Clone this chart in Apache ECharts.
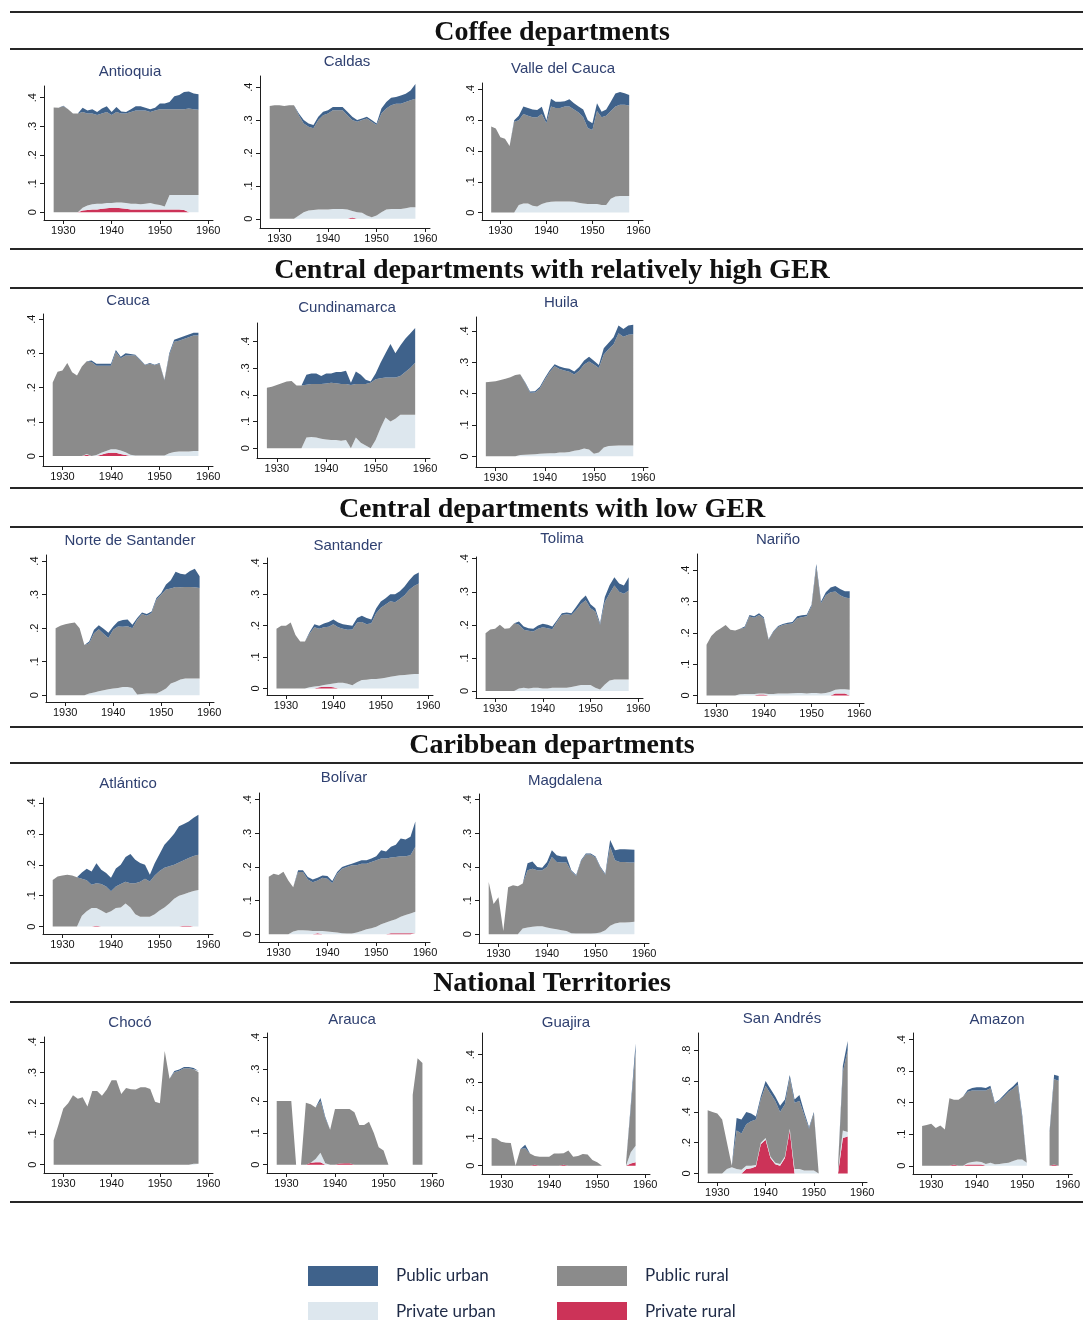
<!DOCTYPE html>
<html>
<head>
<meta charset="utf-8">
<script src="https://cdn.jsdelivr.net/npm/echarts@6/dist/echarts.min.js"></script>
<style>
  html, body { margin: 0; padding: 0; background: #ffffff; }
  #chart { width: 1083px; height: 1320px; }
</style>
</head>
<body>
<div id="chart"></div>
<script>
// Gross enrolment shares by school type, departments of Colombia, 1928-1958
const years = [1928,1929,1930,1931,1932,1933,1934,1935,1936,1937,1938,1939,1940,1941,1942,1943,
               1944,1945,1946,1947,1948,1949,1950,1951,1952,1953,1954,1955,1956,1957,1958];
// Year categories along each horizontal axis (padded beyond the observed years)
const axisYears = [1926,1927,1928,1929,1930,1931,1932,1933,1934,1935,1936,1937,1938,1939,1940,1941,1942,1943,
                   1944,1945,1946,1947,1948,1949,1950,1951,1952,1953,1954,1955,1956,1957,1958,1959,1960,1961];
const xTickYears = [1930, 1940, 1950, 1960];
const yTicks = [0, 0.1, 0.2, 0.3, 0.4];
const yTicksWide = [0, 0.2, 0.4, 0.6, 0.8];

// Stacking order, bottom to top
const layerKeys  = ['privateRural', 'privateUrban', 'publicRural', 'publicUrban'];
const layerNames = ['Private rural', 'Private urban', 'Public rural', 'Public urban'];
const layerColors = ['#cc3358', '#dde7ee', '#8b8b8b', '#3f628b'];

const antioquia = {
  privateRural: [0,0,0,0,0,0,.006,.008,.01,.01,.012,.014,.016,.016,.014,.012,.01,.01,.01,.01,.01,.01,.01,.01,.01,.01,.01,.008,0,0,0],
  privateUrban: [0,0,0,0,0,0,.01,.016,.018,.02,.018,.018,.016,.018,.02,.02,.02,.02,.018,.02,.022,.018,.015,.01,.05,.05,.05,.052,.06,.06,.06],
  publicRural:  [.366,.365,.37,.36,.345,.345,.334,.321,.317,.31,.315,.318,.308,.316,.311,.313,.32,.325,.327,.325,.318,.327,.335,.34,.30,.30,.30,.30,.302,.30,.298],
  publicUrban:  [0,0,.002,0,0,0,.015,.01,.015,.01,.017,.02,.01,.018,.007,.005,.01,.015,.015,.01,.01,.01,.02,.02,.025,.045,.05,.06,.06,.055,.054]
};
const caldas = {
  privateRural: [0,0,0,0,0,0,0,0,0,0,0,0,0,0,0,0,0,.004,0,0,0,0,0,0,0,0,0,0,0,0,0],
  privateUrban: [0,0,0,0,0,0,.01,.02,.025,.027,.028,.028,.028,.03,.03,.03,.028,.02,.02,.018,.01,.005,.01,.02,.028,.03,.03,.03,.032,.035,.035],
  publicRural:  [.343,.345,.345,.343,.345,.345,.305,.27,.255,.248,.272,.287,.292,.30,.30,.30,.287,.276,.275,.282,.295,.29,.275,.30,.307,.315,.32,.32,.323,.325,.33],
  publicUrban:  [0,0,0,0,0,0,.005,.01,.01,.01,.01,.01,.01,.01,.01,.01,.01,.01,.005,.005,.005,.005,.005,.015,.02,.023,.02,.025,.025,.03,.045]
};
const valleDelCauca = {
  privateRural: [0,0,0,0,0,0,0,0,0,0,0,0,0,0,0,0,0,0,0,0,0,0,0,0,0,0,0,0,0,0,0],
  privateUrban: [0,0,0,0,0,0,.025,.03,.03,.022,.02,.028,.033,.035,.036,.036,.036,.036,.035,.032,.03,.028,.028,.028,.025,.025,.045,.052,.054,.054,.054],
  publicRural:  [.28,.273,.245,.24,.216,.295,.275,.29,.285,.288,.29,.292,.257,.31,.304,.304,.309,.309,.30,.293,.28,.247,.24,.302,.285,.29,.285,.293,.296,.296,.294],
  publicUrban:  [0,0,0,0,0,.005,.015,.025,.025,.025,.023,.024,.01,.025,.02,.02,.017,.023,.02,.02,.025,.025,.022,.025,.018,.02,.03,.042,.042,.038,.034]
};
const cauca = {
  privateRural: [0,0,0,0,0,0,0,.004,0,0,.004,.008,.01,.01,.006,.003,0,0,0,0,0,0,0,0,0,0,0,0,0,0,0],
  privateUrban: [0,0,0,0,0,0,0,.002,0,.003,.006,.007,.01,.01,.01,.008,.004,.002,.002,.002,.002,.002,.002,.002,.008,.012,.013,.013,.013,.015,.015],
  publicRural:  [.215,.246,.25,.272,.245,.235,.262,.271,.275,.261,.254,.249,.244,.284,.27,.283,.29,.292,.278,.263,.268,.263,.268,.219,.287,.322,.324,.329,.334,.337,.337],
  publicUrban:  [0,0,0,0,0,0,0,0,.004,.006,.006,.006,.006,.006,.004,.006,.004,.002,.002,.002,.002,.002,.002,.002,.005,.006,.008,.008,.008,.008,.008]
};
const cundinamarca = {
  privateRural: [0,0,0,0,0,0,0,0,0,0,0,0,0,0,0,0,0,0,0,0,0,0,0,0,0,0,0,0,0,0,0],
  privateUrban: [0,0,0,0,0,0,0,0,.04,.042,.04,.035,.032,.03,.03,.028,.03,0,.04,.02,.01,0,.03,.075,.115,.10,.11,.125,.125,.125,.125],
  publicRural:  [.226,.23,.237,.243,.25,.252,.235,.235,.198,.198,.20,.205,.21,.215,.213,.212,.21,.237,.20,.22,.23,.245,.228,.187,.15,.165,.155,.145,.16,.175,.195],
  publicUrban:  [0,0,0,0,0,0,0,0,.037,.04,.04,.03,.038,.035,.042,.045,.05,.008,.047,.035,.016,.005,.022,.058,.091,.125,.091,.115,.125,.13,.13]
};
const huila = {
  privateRural: [0,0,0,0,0,0,0,0,0,0,0,0,0,0,0,0,0,0,0,0,0,0,0,0,0,0,0,0,0,0,0],
  privateUrban: [0,0,0,0,0,0,0,.004,.005,.006,.007,.008,.009,.01,.01,.012,.012,.014,.018,.02,.025,.022,.008,.012,.028,.033,.034,.035,.035,.035,.035],
  publicRural:  [.237,.238,.24,.244,.248,.253,.26,.258,.229,.197,.197,.209,.236,.259,.278,.267,.262,.256,.243,.253,.268,.281,.285,.27,.297,.31,.324,.358,.347,.353,.355],
  publicUrban:  [0,0,0,0,0,0,0,0,.003,.004,.004,.005,.005,.006,.006,.008,.008,.01,.01,.012,.013,.015,.012,.01,.02,.02,.022,.025,.025,.03,.03]
};
const norteDeSantander = {
  privateRural: [0,0,0,0,0,0,0,0,0,0,0,0,0,0,0,0,0,0,0,0,0,0,0,0,0,0,0,0,0,0,0],
  privateUrban: [0,0,0,0,0,0,0,.005,.008,.012,.015,.018,.02,.022,.025,.025,.022,.002,.004,.005,.005,.005,.012,.02,.035,.04,.047,.05,.05,.05,.05],
  publicRural:  [.20,.207,.212,.215,.217,.20,.15,.15,.177,.185,.168,.153,.175,.183,.179,.181,.178,.223,.238,.232,.24,.28,.288,.295,.283,.283,.275,.273,.273,.272,.27],
  publicUrban:  [0,0,0,0,0,0,0,.005,.01,.012,.015,.015,.01,.015,.02,.02,.01,.005,.005,.005,.005,.005,.005,.015,.025,.045,.04,.037,.047,.055,.035]
};
const santander = {
  privateRural: [0,0,0,0,0,0,0,0,0,.004,.005,.005,.004,0,0,0,0,0,0,0,0,0,0,0,0,0,0,0,0,0,0],
  privateUrban: [0,0,0,0,0,0,0,.004,.006,.004,.006,.008,.012,.018,.018,.015,.01,.02,.027,.028,.03,.03,.032,.034,.037,.04,.042,.043,.044,.046,.046],
  publicRural:  [.19,.20,.20,.21,.17,.15,.15,.171,.189,.182,.184,.184,.189,.177,.172,.172,.178,.19,.185,.177,.178,.21,.225,.234,.241,.235,.243,.254,.271,.281,.289],
  publicUrban:  [0,0,0,0,0,0,0,.005,.01,.01,.012,.015,.015,.015,.015,.015,.012,.015,.02,.02,.012,.015,.02,.02,.022,.025,.025,.028,.03,.035,.035]
};
const tolima = {
  privateRural: [0,0,0,0,0,0,0,0,0,0,0,0,0,0,0,0,0,0,0,0,0,0,0,0,0,0,0,0,0,0,0],
  privateUrban: [0,0,0,0,0,0,0,.008,.01,.008,.01,.01,.008,.008,.01,.01,.01,.01,.012,.015,.018,.018,.018,.01,.005,.02,.032,.035,.035,.035,.035],
  publicRural:  [.175,.186,.188,.20,.188,.19,.205,.192,.175,.174,.17,.178,.185,.182,.177,.20,.22,.222,.218,.23,.245,.256,.232,.23,.195,.249,.263,.284,.265,.259,.269],
  publicUrban:  [0,0,0,0,0,0,0,.01,.01,.008,.008,.01,.01,.01,.008,.005,.005,.005,.005,.01,.012,.015,.012,.01,.005,.015,.025,.025,.025,.025,.04]
};
const narino = {
  privateRural: [0,0,0,0,0,0,0,0,0,0,0,.003,.003,0,0,0,0,0,0,0,0,0,0,0,0,0,0,.006,.006,.006,0],
  privateUrban: [0,0,0,0,0,0,0,.004,.005,.005,.005,.003,.003,.005,.005,.006,.006,.006,.007,.008,.008,.006,.008,.008,.006,.008,.012,.012,.014,.014,.018],
  publicRural:  [.162,.19,.205,.215,.225,.21,.208,.209,.211,.247,.243,.251,.24,.173,.198,.213,.219,.222,.223,.239,.242,.247,.277,.402,.289,.312,.318,.314,.30,.293,.293],
  publicUrban:  [0,0,0,0,0,0,0,0,.004,.005,.005,.006,.004,.002,.002,.003,.003,.004,.005,.006,.006,.005,.005,.01,.005,.01,.015,.018,.02,.02,.022]
};
const atlantico = {
  privateRural: [0,0,0,0,0,0,0,0,0,.003,0,0,0,0,0,0,0,0,0,0,0,0,0,0,0,0,0,.003,.003,0,0],
  privateUrban: [0,0,0,0,0,0,.035,.05,.06,.057,.052,.043,.05,.06,.062,.075,.062,.04,.032,.032,.032,.04,.052,.062,.075,.09,.10,.102,.107,.115,.118],
  publicRural:  [.151,.162,.165,.168,.165,.16,.12,.10,.075,.08,.086,.087,.064,.07,.076,.07,.078,.10,.113,.123,.114,.125,.128,.128,.12,.11,.107,.11,.112,.113,.114],
  publicUrban:  [0,0,0,0,0,0,.02,.037,.043,.065,.046,.043,.044,.058,.062,.08,.095,.076,.061,.045,.022,.04,.055,.075,.087,.10,.118,.117,.118,.124,.13]
};
const bolivar = {
  privateRural: [0,0,0,0,0,0,0,0,0,0,.003,0,0,0,0,0,0,0,0,0,0,0,0,0,0,.003,.003,.003,.003,.003,.003],
  privateUrban: [0,0,0,0,0,.008,.012,.012,.011,.01,.007,.01,.008,.007,.005,.003,.002,.002,.005,.01,.015,.018,.022,.03,.035,.037,.042,.049,.054,.059,.064],
  publicRural:  [.171,.18,.176,.186,.16,.132,.173,.173,.152,.145,.15,.158,.157,.145,.175,.192,.198,.203,.20,.20,.195,.197,.198,.195,.19,.188,.185,.18,.175,.173,.193],
  publicUrban:  [0,0,0,0,0,0,.005,.005,.007,.008,.008,.007,.008,.006,.005,.005,.005,.005,.01,.01,.01,.01,.012,.025,.021,.032,.036,.053,.05,.055,.075]
};
const magdalena = {
  privateRural: [0,0,0,0,0,0,0,0,0,0,0,0,0,0,0,0,0,0,0,0,0,0,0,0,0,0,0,0,0,0,0],
  privateUrban: [0,0,0,0,0,0,0,.017,.02,.022,.024,.024,.02,.017,.015,.012,.01,.003,.002,.002,.002,.002,.003,.005,.012,.025,.032,.035,.035,.036,.037],
  publicRural:  [.155,.09,.11,.01,.14,.146,.143,.134,.17,.173,.166,.166,.18,.213,.20,.201,.203,.184,.171,.215,.235,.235,.225,.193,.165,.235,.188,.18,.18,.177,.176],
  publicUrban:  [0,0,0,0,0,0,0,0,.021,.021,.01,.008,.015,.02,.02,.018,.018,.003,.003,.003,.003,.003,.003,.003,.003,.02,.03,.038,.038,.039,.038]
};
const choco = {
  privateRural: [0,0,0,0,0,0,0,0,0,0,0,0,0,0,0,0,0,0,0,0,0,0,0,0,0,0,0,0,0,0,0],
  privateUrban: [0,0,0,0,0,0,0,0,0,0,0,0,0,0,0,0,0,0,0,0,0,0,0,0,0,0,0,0,0,.003,.003],
  publicRural:  [.08,.13,.183,.20,.226,.215,.22,.19,.24,.24,.225,.245,.275,.275,.23,.25,.246,.245,.252,.252,.247,.205,.20,.37,.28,.301,.306,.314,.314,.308,.298],
  publicUrban:  [0,0,0,0,0,0,0,0,0,0,0,0,0,0,0,0,0,0,0,0,0,0,0,0,0,.004,.004,.004,.004,.004,.004]
};
const arauca = {
  privateRural: [0,0,0,0,0,0,0,.006,.008,.008,0,0,0,.004,.005,.005,0,0,0,0,0,0,0,0,null,null,null,null,0,0,0],
  privateUrban: [0,0,0,0,0,0,0,0,.01,.03,.005,0,0,0,0,0,0,0,0,0,0,0,0,0,null,null,null,null,0,0,0],
  publicRural:  [.20,.20,.20,.20,0,0,.195,.184,.162,.162,.14,.11,.175,.171,.17,.17,.165,.125,.125,.135,.10,.055,.045,0,null,null,null,null,.22,.335,.32],
  publicUrban:  [0,0,0,0,0,0,0,0,0,.01,.005,0,0,0,0,0,0,0,0,0,0,0,0,0,null,null,null,null,0,0,0]
};
const guajira = {
  privateRural: [0,0,0,0,0,0,0,0,0,.003,0,0,0,0,0,.003,0,0,0,0,0,0,0,0,null,null,null,null,0,.008,.012],
  privateUrban: [0,0,0,0,0,0,0,0,0,0,0,0,0,0,0,0,0,0,0,0,0,0,0,0,null,null,null,null,0,.04,.06],
  publicRural:  [.10,.098,.086,.083,.082,0,.06,.063,.044,.032,.032,.032,.032,.044,.044,.042,.055,.032,.035,.042,.04,.02,.012,0,null,null,null,null,.01,.16,.338],
  publicUrban:  [0,0,0,0,0,0,0,.012,0,0,0,0,0,0,0,0,0,0,0,0,0,0,0,0,null,null,null,null,0,.012,.03]
};
const sanAndres = {
  privateRural: [0,0,0,0,0,0,0,0,.03,.035,.045,.19,.22,.10,.06,.05,.10,.28,0,0,0,0,0,0,null,null,null,0,.23,.24,null],
  privateUrban: [0,0,0,0,.03,.04,.03,.025,.02,.015,.01,.01,.01,.01,.01,.012,.01,.01,.03,.03,.02,.02,.02,0,null,null,null,.02,.05,.03,null],
  publicRural:  [.41,.40,.39,.35,.17,.01,.25,.235,.27,.29,.295,.28,.34,.41,.40,.338,.34,.33,.43,.44,.36,.27,.37,0,null,null,null,.03,.38,.53,null],
  publicUrban:  [0,0,0,0,0,0,.08,.09,.08,.05,.02,.02,.03,.03,.03,.04,.03,.02,.02,.04,.02,.01,.01,0,null,null,null,0,.04,.06,null]
};
const amazon = {
  privateRural: [0,0,0,0,0,0,0,.004,0,0,.004,.004,.004,.004,0,0,0,0,0,0,0,0,0,0,null,null,null,null,0,.004,0],
  privateUrban: [0,0,0,0,0,0,0,0,0,0,.005,.008,.01,.008,.006,.01,.005,.006,.008,.01,.015,.02,.02,.01,null,null,null,null,0,0,0],
  publicRural:  [.126,.129,.133,.12,.128,.115,.214,.205,.209,.22,.226,.227,.225,.227,.233,.236,.192,.201,.212,.225,.229,.237,.13,0,null,null,null,null,.105,.27,.27],
  publicUrban:  [0,0,0,0,0,0,0,0,0,0,.005,.008,.01,.01,.008,.008,.003,.003,.005,.005,.008,.01,.01,0,null,null,null,null,.005,.015,.015]
};

// Section headings: text and vertical centre
const sections = [
  ['Coffee departments', 33],
  ['Central departments with relatively high GER', 271],
  ['Central departments with low GER', 510],
  ['Caribbean departments', 746],
  ['National Territories', 984]
];
const ruleRows = [12, 49, 249, 288, 488, 527, 727, 763, 963, 1002, 1202];

// Panel layout: plot box [left, top, width, height], y range, title centre
const panels = [
  { title: 'Antioquia',          data: antioquia,        box: [44, 86, 169, 134],   y: [-0.027, 0.441], at: [130, 72] },
  { title: 'Caldas',             data: caldas,           box: [260, 76, 170, 152],  y: [-0.028, 0.434], at: [347, 62] },
  { title: 'Valle del Cauca',    data: valleDelCauca,    box: [482, 83, 161, 137],  y: [-0.024, 0.421], at: [563, 69] },
  { title: 'Cauca',              data: cauca,            box: [43, 314, 170, 152],  y: [-0.029, 0.415], at: [128, 301] },
  { title: 'Cundinamarca',       data: cundinamarca,     box: [257, 323, 173, 135], y: [-0.037, 0.469], at: [347, 308] },
  { title: 'Huila',              data: huila,            box: [476, 317, 172, 150], y: [-0.034, 0.445], at: [561, 303] },
  { title: 'Norte de Santander', data: norteDeSantander, box: [46, 555, 168, 147],  y: [-0.020, 0.418], at: [130, 541] },
  { title: 'Santander',          data: santander,        box: [267, 558, 166, 137], y: [-0.021, 0.416], at: [348, 546] },
  { title: 'Tolima',             data: tolima,           box: [476, 557, 167, 141], y: [-0.021, 0.405], at: [562, 539] },
  { title: 'Nariño',             data: narino,           box: [697, 554, 167, 149], y: [-0.024, 0.452], at: [778, 540] },
  { title: 'Atlántico',          data: atlantico,        box: [43, 798, 170, 136],  y: [-0.024, 0.416], at: [128, 784] },
  { title: 'Bolívar',            data: bolivar,          box: [259, 793, 171, 149], y: [-0.023, 0.420], at: [344, 778] },
  { title: 'Magdalena',          data: magdalena,        box: [479, 794, 170, 149], y: [-0.026, 0.417], at: [565, 781] },
  { title: 'Chocó',              data: choco,            box: [44, 1037, 169, 136], y: [-0.027, 0.416], at: [130, 1023] },
  { title: 'Arauca',             data: arauca,           box: [267, 1033, 170, 140], y: [-0.026, 0.414], at: [352, 1020] },
  { title: 'Guajira',            data: guajira,          box: [482, 1033, 168, 141], y: [-0.030, 0.478], at: [566, 1023] },
  { title: 'San Andrés',         data: sanAndres,        box: [698, 1033, 169, 149], y: [-0.055, 0.912], at: [782, 1019], ticks: yTicksWide },
  { title: 'Amazon',             data: amazon,           box: [913, 1033, 172, 141], y: [-0.026, 0.421], at: [997, 1020] }
];

const axisColor = '#1e1e1e';
const tickFont = '"Liberation Sans Narrow", "Liberation Sans", Arial, sans-serif';
const fmtY = v => (v === 0 ? '0' : String(+v.toFixed(1)).replace(/^0\./, '.'));
const isDecade = (idx, val) => xTickYears.indexOf(+val) >= 0;

const grids = [], xAxes = [], yAxes = [], series = [], graphics = [];

panels.forEach((p, i) => {
  const ticks = p.ticks || yTicks;
  grids.push({ left: p.box[0], top: p.box[1], width: p.box[2], height: p.box[3], containLabel: false });
  xAxes.push({
    type: 'category', gridIndex: i, data: axisYears, boundaryGap: false,
    axisLine: { show: true, onZero: false, lineStyle: { color: axisColor, width: 1 } },
    axisTick: { show: true, interval: isDecade, length: 4, lineStyle: { color: axisColor } },
    axisLabel: { show: true, interval: isDecade, margin: 5, fontSize: 11, fontFamily: tickFont, color: '#111' },
    splitLine: { show: false }
  });
  yAxes.push({
    type: 'value', gridIndex: i, min: p.y[0], max: p.y[1],
    axisLine: { show: true, onZero: false, lineStyle: { color: axisColor, width: 1 } },
    axisTick: { show: true, customValues: ticks, length: 4, lineStyle: { color: axisColor } },
    axisLabel: { show: true, customValues: ticks, rotate: 90, margin: 6, fontSize: 11, fontFamily: tickFont, color: '#111', formatter: fmtY },
    splitLine: { show: false }
  });
  layerKeys.forEach((key, k) => {
    const values = p.data[key];
    series.push({
      type: 'line', name: layerNames[k], xAxisIndex: i, yAxisIndex: i, stack: 'panel' + i,
      data: axisYears.map(yr => {
        const j = years.indexOf(yr);
        return j < 0 ? null : values[j];
      }),
      color: layerColors[k],
      symbol: 'none', showSymbol: false, connectNulls: false, silent: true,
      lineStyle: { width: 0, color: layerColors[k] },
      itemStyle: { color: layerColors[k] },
      areaStyle: { color: layerColors[k], opacity: 1 },
      z: 2
    });
  });
  graphics.push({
    type: 'text', x: p.at[0], y: p.at[1], silent: true,
    style: {
      text: p.title, font: '15px "Liberation Sans", Arial, sans-serif', fill: '#2f4070',
      textAlign: 'center', align: 'center', textVerticalAlign: 'middle', verticalAlign: 'middle'
    }
  });
});

sections.forEach(([text, yc]) => {
  graphics.push({
    type: 'text', x: 552, y: yc, silent: true,
    style: {
      text: text, font: 'bold 28px "Liberation Serif", "Times New Roman", serif', fill: '#111111',
      textAlign: 'center', align: 'center', textVerticalAlign: 'middle', verticalAlign: 'middle'
    }
  });
});
ruleRows.forEach(yr => {
  graphics.push({
    type: 'line', silent: true,
    shape: { x1: 10, y1: yr, x2: 1083, y2: yr },
    style: { stroke: '#262626', lineWidth: 2 }
  });
});

// One legend, two rows of two entries; fixed text width keeps the columns aligned
const legend = {
  data: ['Public urban', 'Public rural', 'Private urban', 'Private rural'],
  orient: 'horizontal', left: 308, top: 1266, width: 500, padding: 0,
  itemWidth: 70, itemHeight: 20, itemGap: 16, icon: 'rect',
  selectedMode: false, itemStyle: { borderWidth: 0 },
  textStyle: { fontFamily: 'Lato, "Open Sans", sans-serif', fontSize: 17, color: '#1f2b47',
               width: 145, padding: [0, 0, 0, 13], lineHeight: 20 }
};

const chart = echarts.init(document.getElementById('chart'), null, { renderer: 'canvas' });
chart.setOption({
  backgroundColor: '#ffffff',
  animation: false,
  grid: grids,
  xAxis: xAxes,
  yAxis: yAxes,
  legend: legend,
  series: series,
  graphic: graphics
});
</script>
</body>
</html>
